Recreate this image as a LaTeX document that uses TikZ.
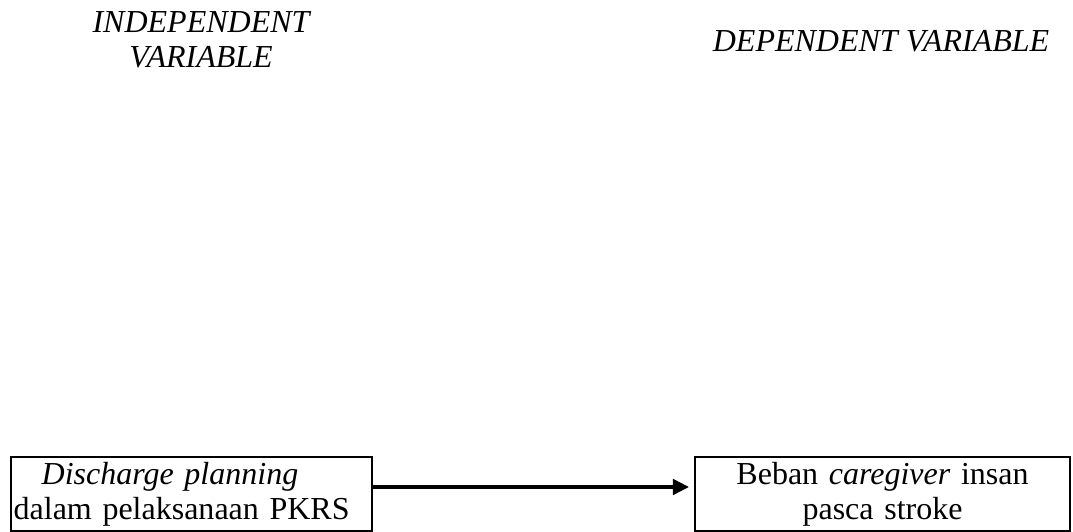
\documentclass[tikz,border=0pt]{standalone}
\usepackage{fontspec}
\setmainfont{Liberation Serif}
\usetikzlibrary{arrows.meta}
\tikzset{
	varbox/.style={draw, line width=0.75pt, inner xsep=1pt, inner ysep=0pt, minimum height=0.975cm, font=\fontsize{12}{13.2}\selectfont},
	varhead/.style={align=center, inner sep=0pt, font=\fontsize{12}{13.2}\selectfont\itshape},
	arr/.style={line width=1.25pt, -{Triangle[length=6pt,width=5.8pt]}}
}

\begin{document}
\begin{tikzpicture}
				\useasboundingbox (0,0) rectangle (14.14,7.01);
				
				\node[varhead] (indep) at (2.649,6.488) {INDEPENDENT\\VARIABLE};
				\node[varhead, anchor=base] (dep) at (11.61,6.326) {DEPENDENT VARIABLE};
				
				\node[varbox, minimum width=4.758cm, text width=133.4pt, align=left] (dp) at (2.524,0.501)
					{\hspace*{10.5pt}\textit{Discharge planning}\\dalam pelaksanaan PKRS};
				\node[varbox, minimum width=4.942cm, text width=138.6pt, align=center] (bc) at (11.63,0.501)
					{Beban \textit{caregiver} insan\\pasca stroke};
				
				\draw[arr, shorten >=1.9pt] ([yshift=2.6pt]dp.east) -- ([yshift=2.6pt]bc.west);
			\end{tikzpicture}
\end{document}
